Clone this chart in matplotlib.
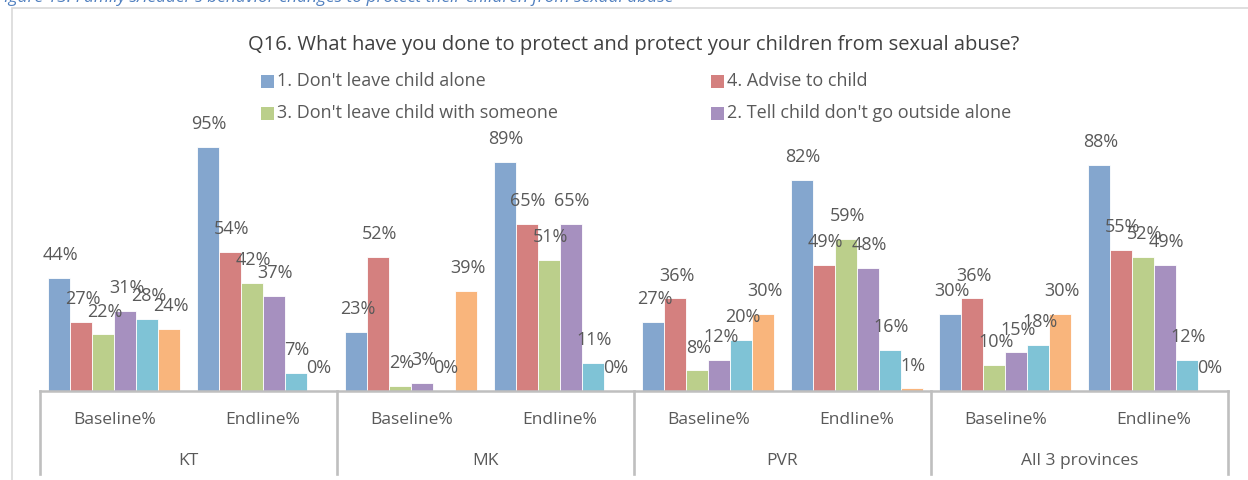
import matplotlib
matplotlib.use("Agg")
import matplotlib.pyplot as plt
from matplotlib.patches import Rectangle
from matplotlib.lines import Line2D
import numpy as np

plt.rcParams['font.family'] = ['Open Sans', 'DejaVu Sans']

W, H = 1248, 480

title = "Q16. What have you done to protect and protect your children from sexual abuse?"
caption = "Figure 13: Family's/leader's behavior changes to protect their children from sexual abuse"
provinces = ["KT", "MK", "PVR", "All 3 provinces"]
periods = ["Baseline%", "Endline%"]

series_names = [
    "1. Don't leave child alone",
    "4. Advise to child",
    "3. Don't leave child with someone",
    "2. Tell child don't go outside alone",
    "5. Other",
    "6. Nothing",
]
# values per series, order: KT base, KT end, MK base, MK end, PVR base, PVR end, All base, All end
blue = [44, 95, 23, 89, 27, 82, 30, 88]
red = [27, 54, 52, 65, 36, 49, 36, 55]
green = [22, 42, 2, 51, 8, 59, 10, 52]
purple = [31, 37, 3, 65, 12, 48, 15, 49]
cyan = [28, 7, 0, 11, 20, 16, 18, 12]
orange = [24, 0, 39, 0, 30, 1, 30, 0]

series = [blue, red, green, purple, cyan, orange]
colors = ["#84A6CE", "#D4807F", "#BBCF8B", "#A690BF", "#7FC3D6", "#F9B57C"]
in_legend = [True, True, True, True, False, False]

label_color = "#595959"
line_color = "#BFBFBF"


def fx(x):
    return x / W


def fy(y):
    return 1 - y / H


fig = plt.figure(figsize=(W / 100, H / 100), dpi=100)
fig.patch.set_facecolor("white")

# outer chart border (right and bottom edges fall outside the picture)
fig.add_artist(Rectangle((fx(12), fy(495)), fx(1270) - fx(12), fy(8) - fy(495),
                         transform=fig.transFigure, fill=False,
                         edgecolor="#D9D9D9", linewidth=1.2))

# cut-off caption at the very top
fig.text(fx(-4), fy(1.5), caption, color="#4F7FBF", fontsize=12.5,
         style="italic", ha="left", va="baseline")

# plot area
ax_left, ax_right, ax_top, ax_bottom = 40, 1228, 134, 391
ax = fig.add_axes([fx(ax_left), fy(ax_bottom), fx(ax_right) - fx(ax_left),
                   fy(ax_top) - fy(ax_bottom)])
n_cat = len(blue)
n_ser = len(series)
bar_w = 0.148
x = np.arange(n_cat) + 0.5
for i, (vals, col) in enumerate(zip(series, colors)):
    off = (i - (n_ser - 1) / 2) * bar_w
    bars = ax.bar(x + off, np.array(vals) / 100, bar_w, color=col,
                  edgecolor="white", linewidth=0.6, zorder=2)
    for b, v in zip(bars, vals):
        ax.annotate(f"{v}%", (b.get_x() + b.get_width() / 2, b.get_height()),
                    xytext=(1, 16.5), textcoords="offset points",
                    ha="center", va="center", fontsize=13,
                    color=label_color, zorder=3)

ax.set_xlim(0, n_cat)
ax.set_ylim(0, 1)
for s in ["top", "left", "right"]:
    ax.spines[s].set_visible(False)
ax.spines["bottom"].set_color(line_color)
ax.spines["bottom"].set_linewidth(1.8)
ax.set_xticks([])
ax.set_yticks([])
ax.patch.set_alpha(0)

# multi-level category axis
for k in range(len(provinces) + 1):
    xp = ax_left + k * (ax_right - ax_left) / len(provinces)
    fig.add_artist(Line2D([fx(xp), fx(xp)], [fy(391), fy(474)],
                          transform=fig.transFigure, color=line_color,
                          linewidth=1.9))
sub_w = (ax_right - ax_left) / n_cat
for j in range(n_cat):
    cx = ax_left + (j + 0.5) * sub_w
    fig.text(fx(cx), fy(420), periods[j % 2], ha="center", va="center",
             fontsize=12.5, color=label_color)
for k, p in enumerate(provinces):
    cx = ax_left + (k + 0.5) * 2 * sub_w
    fig.text(fx(cx), fy(461), p, ha="center", va="center",
             fontsize=12.5, color=label_color)

# title
fig.text(fx(634), fy(45), title, ha="center", va="center", fontsize=14.5,
         color="#404040")

# legend, two columns
leg_pos = [(261, 81), (711, 81), (261, 113), (711, 113)]
k = 0
for name, col, show in zip(series_names, colors, in_legend):
    if not show:
        continue
    lx, ly = leg_pos[k]
    k += 1
    fig.add_artist(Rectangle((fx(lx), fy(ly + 6.5)), fx(13), fy(0) - fy(13),
                             transform=fig.transFigure, facecolor=col,
                             edgecolor="none"))
    fig.text(fx(lx + 16), fy(ly), name, ha="left", va="center",
             fontsize=13, color=label_color)

fig.savefig("out.png", dpi=100)
